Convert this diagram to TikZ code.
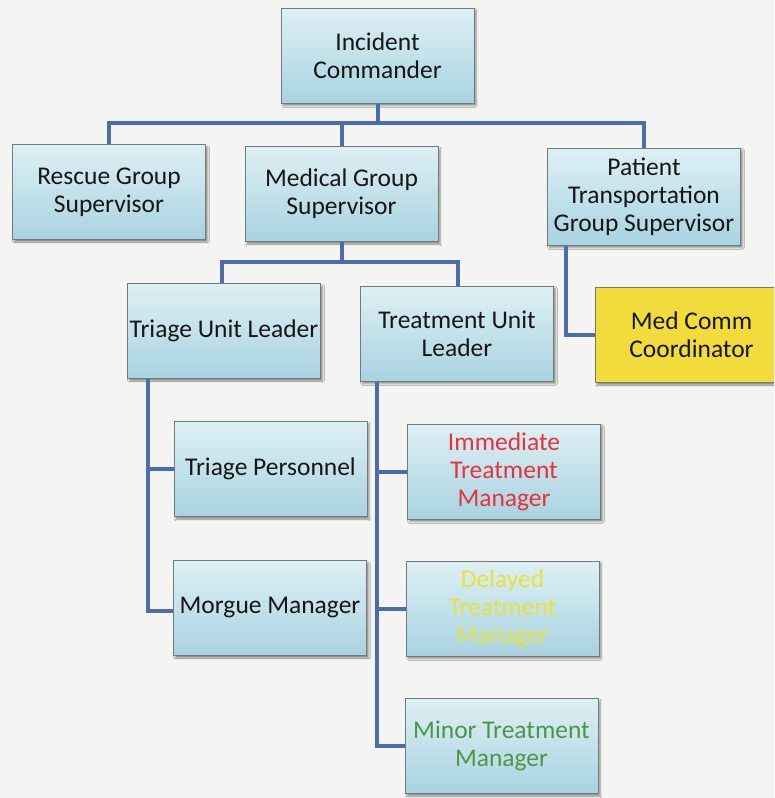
\documentclass[tikz,border=0pt]{standalone}
\usepackage{fontspec}
\setmainfont{Carlito}
\usetikzlibrary{calc,shadows.blur}
\definecolor{bg}{RGB}{244,244,242}
\definecolor{boxtop}{RGB}{222,240,244}
\definecolor{boxbot}{RGB}{168,211,225}
\definecolor{boxline}{RGB}{115,122,125}
\definecolor{conn}{RGB}{76,108,170}
\definecolor{ylw}{RGB}{242,220,60}
\definecolor{redtxt}{RGB}{230,50,58}
\definecolor{ylwtxt}{RGB}{232,226,60}
\definecolor{grntxt}{RGB}{78,150,70}
\definecolor{txt}{RGB}{22,22,22}
\begin{document}
\begin{tikzpicture}[x=1pt,y=-1pt,
  box/.style={rectangle, draw=boxline, line width=1pt, top color=boxtop, bottom color=boxbot,
    minimum width=193pt, minimum height=95pt, inner sep=0pt, align=center, text=txt,
    font=\fontsize{25.5}{28}\selectfont,
    blur shadow={shadow xshift=2pt, shadow yshift=-2.5pt, shadow blur steps=4, shadow opacity=45}},
  ybox/.style={box, top color=ylw, bottom color=ylw},
  link/.style={draw=conn, line width=4pt, line join=miter, line cap=butt}]
\useasboundingbox (0,0) rectangle (774,798);
\clip (0,0) rectangle (774,798);
\fill[bg] (0,0) rectangle (774,798);

\node[box] (ic) at (377.5,55.5) {Incident\\Commander};
\node[box] (rescue) at (109,192) {Rescue Group\\Supervisor};
\node[box] (medical) at (341.5,194) {Medical Group\\Supervisor};
\node[box, minimum height=97pt] (patient) at (644,196.5) {Patient\\Transportation\\Group Supervisor};
\node[box] (triage) at (224,331) {Triage Unit Leader};
\node[box] (treatment) at (457,333.5) {Treatment Unit\\Leader};
\node[ybox] (medcomm) at (691.5,335) {Med Comm\\Coordinator};
\node[box] (tpers) at (270.5,469) {Triage Personnel};
\node[box] (morgue) at (270,608) {Morgue Manager};
\node[box, text=redtxt] (immediate) at (504,471.5) {Immediate\\Treatment\\Manager};
\node[box, text=ylwtxt] (delayed) at (502.5,608.5) {Delayed\\Treatment\\Manager};
\node[box, text=grntxt] (minor) at (501.5,746) {Minor Treatment\\Manager};

% level 1 bus
\coordinate (bus1) at (377.5,123);
\draw[link] (ic.south) -- (bus1);
\draw[link] (rescue.north) |- (bus1);
\draw[link] (patient.north) |- (bus1);
\draw[link] (medical.north) -- (medical.north |- bus1);

% level 2 bus
\coordinate (bus2) at (341.5,262);
\draw[link] (medical.south) -- (bus2);
\draw[link] ([xshift=-2pt]triage.north) |- (bus2);
\draw[link] ([xshift=1pt]treatment.north) |- (bus2);

% patient -> med comm
\draw[link] ($(patient.south west)!0.1!(patient.south east)$) |- (medcomm.west);

% triage branches
\coordinate (tr) at ($(triage.south west)!0.108!(triage.south east)$);
\draw[link] (tr) |- (tpers.west);
\draw[link] (tr) |- ([yshift=-3pt]morgue.west);

% treatment branches
\coordinate (tu) at ($(treatment.south west)!0.088!(treatment.south east)$);
\draw[link] (tu) |- (immediate.west);
\draw[link] (tu) |- (delayed.west);
\draw[link] (tu) |- (minor.west);
\end{tikzpicture}
\end{document}
